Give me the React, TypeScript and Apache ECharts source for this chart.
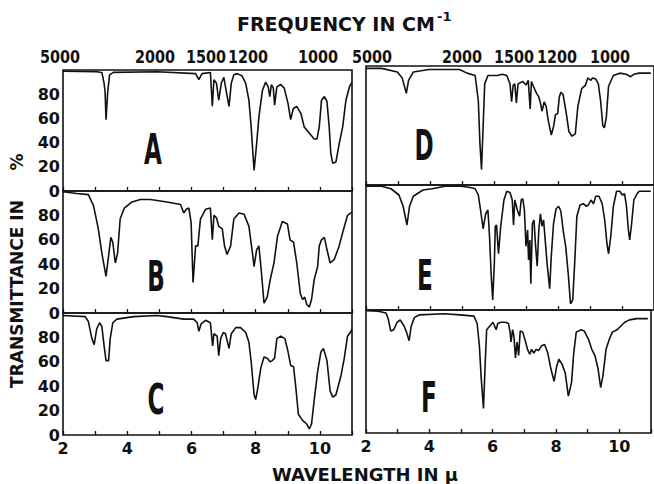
import { useEffect, useRef } from 'react';
import * as echarts from 'echarts';

// ---- Data: [wavelength (µm), transmittance (%)] ----
const specA: [number, number][] = [
  [2.0, 99], [3.05, 98.6], [3.21, 98], [3.28, 89], [3.31, 82], [3.34, 59], [3.39, 81], [3.45, 96], [3.57, 98],
  [4.93, 98.6], [6.13, 97], [6.23, 92], [6.33, 97], [6.59, 98], [6.65, 70], [6.7, 92], [6.78, 89], [6.85, 75],
  [6.93, 89], [7.01, 94], [7.06, 86], [7.17, 70], [7.24, 89], [7.32, 96], [7.43, 97], [7.58, 95], [7.69, 89],
  [7.79, 75], [7.86, 53], [7.95, 17], [8.03, 39], [8.1, 61], [8.21, 83], [8.31, 90], [8.39, 86], [8.44, 78],
  [8.49, 88], [8.55, 85], [8.59, 71], [8.66, 86], [8.78, 88], [8.89, 85], [9.01, 72], [9.09, 59], [9.17, 68],
  [9.28, 70], [9.41, 64], [9.51, 53], [9.67, 48], [9.82, 43], [9.91, 43], [9.98, 53], [10.05, 75], [10.14, 78],
  [10.22, 74], [10.29, 53], [10.34, 31], [10.4, 23], [10.5, 24], [10.6, 39], [10.71, 53], [10.81, 75], [10.92, 86],
  [11.0, 90],
];

const specB: [number, number][] = [
  [2.0, 99.4], [2.43, 98], [2.79, 97], [2.95, 88], [3.1, 69], [3.21, 49], [3.34, 30], [3.42, 47], [3.49, 62],
  [3.55, 58], [3.63, 41], [3.7, 49], [3.78, 77], [3.91, 86], [4.15, 91], [4.41, 93], [4.72, 93], [5.24, 91],
  [5.66, 89], [5.76, 82], [5.84, 85], [5.92, 86], [5.99, 74], [6.05, 25], [6.13, 55], [6.2, 55], [6.28, 77],
  [6.44, 85], [6.59, 86], [6.65, 60], [6.7, 80], [6.78, 78], [6.85, 71], [6.96, 69], [7.03, 55], [7.11, 48],
  [7.22, 55], [7.32, 77], [7.48, 82], [7.64, 81], [7.79, 71], [7.9, 49], [7.95, 38], [8.03, 52], [8.1, 55],
  [8.18, 33], [8.26, 8], [8.36, 13], [8.45, 27], [8.57, 41], [8.68, 63], [8.83, 75], [8.99, 73], [9.07, 60],
  [9.18, 58], [9.28, 41], [9.39, 16], [9.46, 11], [9.53, 13], [9.59, 7], [9.67, 5], [9.74, 11], [9.82, 27],
  [9.93, 38], [9.98, 55], [10.05, 60], [10.14, 62], [10.22, 52], [10.32, 41], [10.45, 44], [10.6, 55],
  [10.71, 66], [10.86, 80], [10.97, 82], [11.0, 83],
];

const specC: [number, number][] = [
  [2.0, 98], [2.69, 97], [2.79, 93], [2.9, 79], [2.97, 74], [3.05, 87], [3.14, 92], [3.21, 89], [3.28, 73],
  [3.34, 61], [3.42, 61], [3.47, 79], [3.55, 92], [3.68, 95], [4.2, 97], [4.93, 98], [5.24, 97], [5.76, 95],
  [6.07, 95], [6.18, 92], [6.23, 85], [6.3, 91], [6.44, 94], [6.59, 92], [6.66, 73], [6.7, 83], [6.8, 81],
  [6.85, 65], [6.91, 79], [6.99, 84], [7.06, 83], [7.17, 71], [7.24, 83], [7.38, 88], [7.53, 88], [7.69, 84],
  [7.79, 76], [7.86, 60], [7.95, 33], [8.0, 29], [8.07, 39], [8.16, 55], [8.26, 64], [8.36, 63], [8.45, 60],
  [8.52, 61], [8.59, 63], [8.66, 79], [8.78, 81], [8.91, 79], [9.01, 68], [9.09, 57], [9.18, 56], [9.25, 39],
  [9.33, 17], [9.46, 12], [9.59, 9], [9.67, 5], [9.74, 9], [9.82, 28], [9.93, 52], [10.03, 68], [10.11, 71],
  [10.22, 61], [10.32, 36], [10.4, 31], [10.5, 33], [10.66, 49], [10.76, 63], [10.86, 81], [10.97, 85], [11.0, 87],
];

const specD: [number, number][] = [
  [2.0, 98], [2.49, 98], [2.98, 95], [3.13, 90], [3.26, 77], [3.33, 88], [3.48, 95], [3.97, 97], [4.77, 97],
  [4.92, 97], [5.16, 94], [5.41, 92], [5.51, 71], [5.56, 35], [5.61, 13], [5.66, 49], [5.71, 85], [5.81, 92],
  [5.96, 92], [6.11, 92], [6.26, 93], [6.4, 92], [6.5, 85], [6.55, 70], [6.6, 84], [6.65, 85], [6.7, 69],
  [6.75, 85], [6.9, 87], [7.0, 84], [7.07, 88], [7.13, 64], [7.17, 87], [7.23, 83], [7.33, 77], [7.4, 74],
  [7.45, 69], [7.5, 62], [7.57, 70], [7.63, 66], [7.69, 55], [7.79, 42], [7.86, 49], [7.92, 59], [7.99, 60],
  [8.04, 74], [8.09, 78], [8.16, 76], [8.26, 60], [8.34, 45], [8.44, 41], [8.54, 43], [8.62, 66], [8.74, 81],
  [8.86, 84], [8.93, 90], [9.03, 88], [9.08, 90], [9.18, 89], [9.26, 85], [9.33, 71], [9.4, 50], [9.45, 48],
  [9.51, 57], [9.58, 83], [9.73, 92], [9.93, 94], [10.13, 93], [10.27, 91], [10.37, 93], [10.54, 94], [10.9, 94],
];

const specE: [number, number][] = [
  [2.0, 99], [2.49, 99], [2.78, 97], [3.03, 92], [3.16, 83], [3.28, 68], [3.36, 83], [3.48, 91], [3.78, 96],
  [4.07, 97], [4.47, 99], [4.97, 99], [5.26, 98], [5.41, 97], [5.51, 92], [5.58, 80], [5.66, 65], [5.74, 77],
  [5.81, 80], [5.86, 59], [5.91, 29], [5.96, 8], [6.01, 37], [6.04, 67], [6.08, 68], [6.14, 45], [6.21, 67],
  [6.31, 88], [6.4, 95], [6.5, 94], [6.57, 88], [6.61, 68], [6.65, 88], [6.73, 80], [6.8, 75], [6.85, 88],
  [6.9, 89], [6.95, 80], [7.0, 51], [7.05, 64], [7.08, 40], [7.12, 56], [7.15, 21], [7.2, 69], [7.25, 72],
  [7.3, 51], [7.35, 35], [7.4, 64], [7.45, 77], [7.5, 67], [7.55, 72], [7.6, 56], [7.66, 37], [7.74, 17],
  [7.79, 43], [7.86, 69], [7.94, 81], [8.02, 83], [8.09, 79], [8.16, 64], [8.24, 51], [8.32, 29], [8.39, 5],
  [8.46, 8], [8.52, 37], [8.59, 75], [8.69, 84], [8.79, 85], [8.89, 83], [8.95, 84], [9.03, 88], [9.11, 85],
  [9.18, 91], [9.28, 91], [9.38, 85], [9.46, 72], [9.53, 53], [9.58, 45], [9.65, 59], [9.73, 83], [9.83, 95],
  [9.93, 95], [10.01, 92], [10.08, 93], [10.14, 83], [10.2, 64], [10.24, 56], [10.3, 69], [10.37, 88],
  [10.47, 93], [10.54, 95], [10.9, 95],
];

const specF: [number, number][] = [
  [2.0, 99.5], [2.39, 99], [2.63, 97.5], [2.7, 93], [2.78, 83], [2.88, 84], [2.98, 90], [3.08, 92], [3.2, 87],
  [3.28, 82], [3.36, 75], [3.43, 87], [3.53, 94], [3.68, 96], [4.47, 97], [4.97, 96], [5.41, 95], [5.51, 89],
  [5.58, 71], [5.64, 44], [5.71, 20], [5.76, 54], [5.81, 84], [5.91, 87], [6.01, 90], [6.11, 84], [6.16, 89],
  [6.26, 90], [6.4, 90], [6.5, 89], [6.55, 82], [6.58, 74], [6.63, 84], [6.67, 79], [6.72, 61], [6.77, 74],
  [6.82, 63], [6.87, 83], [6.95, 82], [7.03, 75], [7.1, 68], [7.17, 64], [7.23, 68], [7.3, 65], [7.37, 68],
  [7.45, 67], [7.55, 71], [7.64, 72], [7.74, 65], [7.84, 52], [7.94, 42], [8.02, 54], [8.09, 60], [8.19, 56],
  [8.29, 49], [8.39, 30], [8.49, 41], [8.56, 65], [8.64, 82], [8.79, 84], [8.89, 83], [9.03, 76], [9.13, 68],
  [9.23, 63], [9.33, 52], [9.41, 37], [9.48, 46], [9.58, 68], [9.68, 76], [9.78, 82], [9.93, 84], [10.05, 87],
  [10.17, 90], [10.32, 92], [10.54, 93], [10.9, 93],
];

const panelLetters = ['A', 'B', 'C', 'D', 'E', 'F'];
const spectra = [specA, specB, specC, specD, specE, specF];
const frequencyLabels = ['5000', '2000', '1500', '1200', '1000'];
const transmittanceTicks = [0, 20, 40, 60, 80];

// ---- Layout (pixels) ----
const COLS = [
  { left: 63, width: 289 },
  { left: 366, width: 302 },
];
const ROWS = [
  [{ top: 70, height: 121 }, { top: 191, height: 122 }, { top: 313, height: 122 }],
  [{ top: 66, height: 119 }, { top: 185, height: 125 }, { top: 310, height: 123 }],
];
const LETTER_POS = [
  [153, 150], [156, 277], [156, 400],
  [424, 146], [425, 276], [429, 398],
];
// left edges of the frequency labels in the top row
const FREQ_LABEL_LEFT = [
  [40, 135, 186, 228, 298],
  [352, 442, 494, 537, 590],
];

const FONT = 'DejaVu Sans';
const INK = '#111';

export default function App() {
  const ref = useRef<HTMLDivElement>(null);

  useEffect(() => {
    if (!ref.current) return;
    const chart = echarts.init(ref.current, undefined, { renderer: 'svg' });

    const grids: any[] = [];
    const xAxes: any[] = [];
    const yAxes: any[] = [];
    const series: any[] = [];

    spectra.forEach((data, i) => {
      const col = i < 3 ? 0 : 1;
      const row = i % 3;
      const c = COLS[col];
      const r = ROWS[col][row];
      const isBottom = row === 2;
      grids.push({
        left: c.left, width: c.width, top: r.top, height: r.height,
        show: true, borderColor: INK, borderWidth: 1.6, backgroundColor: 'transparent',
        containLabel: false,
      });
      xAxes.push({
        type: 'value', gridIndex: i, min: 2, max: 11, interval: 1,
        axisLine: { show: false },
        splitLine: { show: false },
        axisTick: { show: true, inside: true, length: 4, lineStyle: { color: INK, width: 1.3 } },
        axisLabel: {
          show: isBottom,
          margin: 5,
          formatter: (v: number) => (v % 2 === 0 ? String(v) : ''),
          fontFamily: FONT, fontWeight: 'bold', fontSize: 16, color: INK,
        },
      });
      yAxes.push({
        type: 'value', gridIndex: i, min: 0, max: 100, interval: 20,
        axisLine: { show: false },
        splitLine: { show: false },
        axisTick: { show: false },
        axisLabel: {
          show: col === 0,
          margin: 3,
          formatter: (v: number) => (transmittanceTicks.includes(v) ? String(v) : ''),
          fontFamily: FONT, fontWeight: 'bold', fontSize: 16, color: INK,
        },
      });
      series.push({
        type: 'line', xAxisIndex: i, yAxisIndex: i, data,
        showSymbol: false, symbol: 'none', smooth: false,
        lineStyle: { color: INK, width: 1.6 },
        clip: true,
      });
    });

    const graphic: any[] = [];
    // axis titles
    graphic.push({
      type: 'text', x: 17, y: 294, rotation: Math.PI / 2,
      style: { text: 'TRANSMITTANCE IN', fontFamily: FONT, fontWeight: 'bold', fontSize: 17, fill: INK, align: 'center', verticalAlign: 'middle' },
    });
    graphic.push({
      type: 'text', x: 17, y: 162, rotation: Math.PI / 2,
      style: { text: '%', fontFamily: FONT, fontWeight: 'bold', fontSize: 17, fill: INK, align: 'center', verticalAlign: 'middle' },
    });
    graphic.push({
      type: 'text', x: 365, y: 474,
      style: { text: 'WAVELENGTH IN µ', fontFamily: FONT, fontWeight: 'bold', fontSize: 18, fill: INK, align: 'center', verticalAlign: 'middle' },
    });
    graphic.push({
      type: 'text', x: 237, y: 24,
      style: { text: 'FREQUENCY IN CM', fontFamily: FONT, fontWeight: 'bold', fontSize: 19, fill: INK, align: 'left', verticalAlign: 'middle' },
    });
    graphic.push({
      type: 'text', x: 437, y: 16,
      style: { text: '-1', fontFamily: FONT, fontWeight: 'bold', fontSize: 13, fill: INK, align: 'left', verticalAlign: 'middle' },
    });
    // frequency labels
    FREQ_LABEL_LEFT.forEach((xs) => {
      xs.forEach((x, k) => {
        graphic.push({
          type: 'text', x, y: 57, scaleX: 0.8,
          style: { text: frequencyLabels[k], fontFamily: FONT, fontWeight: 'bold', fontSize: 18, fill: INK, align: 'left', verticalAlign: 'middle' },
        });
      });
    });
    // panel letters
    panelLetters.forEach((letter, i) => {
      const [x, y] = LETTER_POS[i];
      graphic.push({
        type: 'text', x, y, scaleX: 0.55,
        style: { text: letter, fontFamily: FONT, fontWeight: 'bold', fontSize: 42, fill: INK, align: 'center', verticalAlign: 'middle' },
      });
    });

    chart.setOption({
      animation: false,
      backgroundColor: '#fff',
      grid: grids,
      xAxis: xAxes,
      yAxis: yAxes,
      series,
      graphic,
    });

    return () => chart.dispose();
  }, []);

  return (
    <div
      ref={ref}
      style={{ position: 'absolute', left: 0, top: 0, width: 654, height: 484, background: '#fff' }}
    />
  );
}
